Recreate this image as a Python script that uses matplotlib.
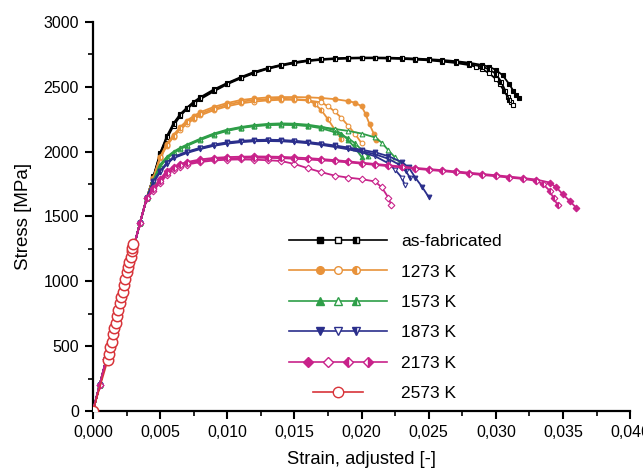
import matplotlib
matplotlib.use('Agg')
import matplotlib.pyplot as plt
import numpy as np
from matplotlib.lines import Line2D
from matplotlib.legend_handler import HandlerBase
from matplotlib.ticker import FuncFormatter, MultipleLocator

plt.rcParams['font.family'] = ['Liberation Sans', 'DejaVu Sans']

# shared elastic part
elastic_strain = [0.0, 0.0005, 0.001, 0.0015, 0.002, 0.0025, 0.003, 0.0035, 0.004]
elastic_stress = [0, 200, 400, 615, 830, 1040, 1250, 1450, 1640]

# as-fabricated
asfab_strain = [
    [0.0045, 0.005, 0.0055, 0.006, 0.0065, 0.007, 0.0075, 0.008, 0.009, 0.010, 0.011, 0.012, 0.013, 0.014,
     0.015, 0.016, 0.017, 0.018, 0.019, 0.020, 0.021, 0.022, 0.023, 0.024, 0.025, 0.026, 0.027, 0.028,
     0.029, 0.0295, 0.030, 0.0305, 0.031, 0.0313, 0.0315, 0.0317],
    [0.0045, 0.005, 0.0055, 0.006, 0.0065, 0.007, 0.0075, 0.008, 0.009, 0.010, 0.011, 0.012, 0.013, 0.014,
     0.015, 0.016, 0.017, 0.018, 0.019, 0.020, 0.021, 0.022, 0.023, 0.024, 0.025, 0.026, 0.027, 0.028,
     0.0285, 0.029, 0.0295, 0.030, 0.0303, 0.0306, 0.0309, 0.0311, 0.0313],
    [0.0045, 0.005, 0.0055, 0.006, 0.0065, 0.007, 0.0075, 0.008, 0.009, 0.010, 0.011, 0.012, 0.013, 0.014,
     0.015, 0.016, 0.017, 0.018, 0.019, 0.020, 0.021, 0.022, 0.023, 0.024, 0.025, 0.026, 0.027, 0.028,
     0.029, 0.0295, 0.030, 0.0304, 0.0307, 0.0310],
]
asfab_stress = [
    [1810, 1990, 2120, 2220, 2290, 2340, 2385, 2420, 2480, 2530, 2575, 2615, 2645, 2670,
     2690, 2705, 2714, 2720, 2724, 2726, 2726, 2725, 2722, 2718, 2713, 2707, 2698, 2686,
     2668, 2655, 2630, 2590, 2520, 2470, 2440, 2414],
    [1800, 1975, 2100, 2200, 2275, 2330, 2370, 2405, 2465, 2520, 2565, 2605, 2638, 2662,
     2682, 2698, 2708, 2714, 2718, 2720, 2720, 2718, 2715, 2710, 2704, 2695, 2684, 2668,
     2655, 2635, 2605, 2560, 2520, 2470, 2420, 2385, 2360],
    [1805, 1985, 2110, 2210, 2285, 2335, 2378, 2412, 2472, 2525, 2570, 2610, 2642, 2666,
     2686, 2702, 2711, 2717, 2721, 2723, 2723, 2722, 2719, 2714, 2709, 2702, 2692, 2678,
     2655, 2635, 2600, 2540, 2470, 2400],
]

# 1273 K
k1273_strain = [
    [0.0045, 0.005, 0.0055, 0.006, 0.0065, 0.007, 0.0075, 0.008, 0.009, 0.010, 0.011, 0.012, 0.013, 0.014,
     0.015, 0.016, 0.017, 0.018, 0.019, 0.0195, 0.020, 0.0203, 0.0206, 0.0209, 0.0211],
    [0.0045, 0.005, 0.0055, 0.006, 0.0065, 0.007, 0.0075, 0.008, 0.009, 0.010, 0.011, 0.012, 0.013, 0.014,
     0.015, 0.016, 0.017, 0.0175, 0.018, 0.0185, 0.019, 0.0195, 0.0200],
    [0.0045, 0.005, 0.0055, 0.006, 0.0065, 0.007, 0.0075, 0.008, 0.009, 0.010, 0.011, 0.012, 0.013, 0.014,
     0.015, 0.016, 0.0165, 0.017, 0.0175, 0.018, 0.0185],
]
k1273_stress = [
    [1800, 1960, 2060, 2130, 2190, 2240, 2275, 2305, 2345, 2375, 2398, 2410, 2418, 2421,
     2421, 2419, 2414, 2405, 2390, 2378, 2350, 2290, 2210, 2140, 2090],
    [1790, 1950, 2045, 2115, 2170, 2215, 2250, 2280, 2320, 2350, 2372, 2386, 2395, 2400,
     2400, 2395, 2380, 2350, 2310, 2260, 2200, 2140, 2065],
    [1795, 1955, 2050, 2120, 2180, 2225, 2262, 2292, 2332, 2362, 2385, 2398, 2405, 2408,
     2405, 2398, 2370, 2320, 2250, 2170, 2100],
]

# 1573 K
k1573_strain = [
    [0.0045, 0.005, 0.0055, 0.006, 0.0065, 0.007, 0.008, 0.009, 0.010, 0.011, 0.012, 0.013, 0.014, 0.015,
     0.016, 0.017, 0.018, 0.0185, 0.019, 0.0195, 0.020],
    [0.0045, 0.005, 0.0055, 0.006, 0.0065, 0.007, 0.008, 0.009, 0.010, 0.011, 0.012, 0.013, 0.014, 0.015,
     0.016, 0.017, 0.018, 0.019, 0.020, 0.021, 0.0215, 0.022, 0.0225, 0.0229],
    [0.0045, 0.005, 0.0055, 0.006, 0.0065, 0.007, 0.008, 0.009, 0.010, 0.011, 0.012, 0.013, 0.014, 0.015,
     0.016, 0.017, 0.018, 0.019, 0.0195, 0.020, 0.0205],
]
k1573_stress = [
    [1780, 1900, 1960, 2000, 2030, 2055, 2100, 2140, 2170, 2190, 2205, 2214, 2218, 2216,
     2208, 2192, 2165, 2140, 2090, 2030, 1960],
    [1770, 1885, 1945, 1990, 2020, 2045, 2090, 2130, 2160, 2182, 2196, 2204, 2207, 2205,
     2200, 2190, 2175, 2160, 2140, 2110, 2070, 2010, 1955, 1910],
    [1775, 1892, 1952, 1995, 2025, 2050, 2095, 2135, 2165, 2186, 2200, 2208, 2212, 2208,
     2198, 2180, 2150, 2105, 2065, 2015, 1965],
]

# 1873 K
k1873_strain = [
    [0.0045, 0.005, 0.0055, 0.006, 0.007, 0.008, 0.009, 0.010, 0.011, 0.012, 0.013, 0.014, 0.015, 0.016,
     0.017, 0.018, 0.019, 0.020, 0.021, 0.022, 0.023, 0.0235, 0.024, 0.0245, 0.025],
    [0.0045, 0.005, 0.0055, 0.006, 0.007, 0.008, 0.009, 0.010, 0.011, 0.012, 0.013, 0.014, 0.015, 0.016,
     0.017, 0.018, 0.019, 0.020, 0.021, 0.022, 0.0225, 0.023, 0.0232],
    [0.0045, 0.005, 0.0055, 0.006, 0.007, 0.008, 0.009, 0.010, 0.011, 0.012, 0.013, 0.014, 0.015, 0.016,
     0.017, 0.018, 0.019, 0.020, 0.021, 0.022, 0.0228, 0.0233, 0.0236],
]
k1873_stress = [
    [1770, 1850, 1915, 1960, 2000, 2030, 2055, 2072, 2083, 2090, 2092, 2090, 2084, 2075,
     2062, 2048, 2032, 2015, 1995, 1965, 1920, 1880, 1800, 1730, 1650],
    [1765, 1840, 1905, 1950, 1990, 2020, 2045, 2062, 2073, 2080, 2082, 2080, 2074, 2065,
     2052, 2036, 2018, 1995, 1965, 1910, 1860, 1800, 1745],
    [1768, 1845, 1910, 1955, 1995, 2025, 2050, 2067, 2078, 2085, 2087, 2085, 2079, 2070,
     2057, 2042, 2025, 2005, 1980, 1945, 1900, 1850, 1800],
]

# 2173 K
k2173_strain = [
    [0.0045, 0.005, 0.0055, 0.006, 0.0065, 0.007, 0.008, 0.009, 0.010, 0.011, 0.012, 0.013, 0.014, 0.015,
     0.016, 0.017, 0.018, 0.019, 0.020, 0.021, 0.022, 0.023, 0.024, 0.025, 0.026, 0.027, 0.028, 0.029,
     0.030, 0.031, 0.032, 0.033, 0.034, 0.0345, 0.035, 0.0355, 0.036],
    [0.0045, 0.005, 0.0055, 0.006, 0.0065, 0.007, 0.008, 0.009, 0.010, 0.011, 0.012, 0.013, 0.014, 0.015,
     0.016, 0.017, 0.018, 0.019, 0.020, 0.021, 0.0215, 0.022, 0.0222],
    [0.0045, 0.005, 0.0055, 0.006, 0.0065, 0.007, 0.008, 0.009, 0.010, 0.011, 0.012, 0.013, 0.014, 0.015,
     0.016, 0.017, 0.018, 0.019, 0.020, 0.021, 0.022, 0.023, 0.024, 0.025, 0.026, 0.027, 0.028, 0.029,
     0.030, 0.031, 0.032, 0.033, 0.0335, 0.034, 0.0343, 0.0346],
]
k2173_stress = [
    [1720, 1790, 1850, 1885, 1905, 1920, 1940, 1952, 1958, 1961, 1963, 1962, 1960, 1955,
     1950, 1943, 1935, 1925, 1915, 1905, 1895, 1885, 1875, 1866, 1857, 1848, 1838, 1828,
     1818, 1808, 1797, 1785, 1762, 1725, 1670, 1620, 1565],
    [1700, 1760, 1820, 1860, 1885, 1900, 1920, 1932, 1938, 1940, 1938, 1934, 1928, 1905,
     1872, 1842, 1815, 1800, 1788, 1770, 1725, 1645, 1590],
    [1710, 1775, 1835, 1872, 1895, 1910, 1930, 1942, 1948, 1951, 1953, 1952, 1950, 1945,
     1940, 1933, 1926, 1917, 1908, 1898, 1888, 1878, 1868, 1859, 1850, 1840, 1830, 1820,
     1810, 1800, 1790, 1775, 1750, 1700, 1640, 1590],
]

# 2573 K
k2573_strain = [0.0, 0.0011, 0.0012, 0.0013, 0.0014, 0.0015, 0.0016, 0.0017, 0.0018, 0.0019, 0.0020,
                0.0021, 0.0022, 0.0023, 0.0024, 0.0025, 0.0026, 0.0027, 0.0028, 0.0029, 0.0029, 0.0030]
k2573_stress = [0, 390, 440, 490, 530, 590, 640, 680, 730, 780, 830,
                880, 920, 970, 1020, 1070, 1110, 1150, 1190, 1230, 1260, 1290]

labels = ['as-fabricated', '1273 K', '1573 K', '1873 K', '2173 K', '2573 K']
colors = ['#000000', '#E8923A', '#2E9E48', '#2B2F8C', '#C8228A', '#D8343A']
markers = ['s', 'o', '^', 'v', 'D', 'o']
fills = ['full', 'none', 'left']


class SpecimenHandler(HandlerBase):
    def __init__(self, marker, color, fillset, spots, span=(0.0, 1.0), ms=5.0):
        super().__init__()
        self.marker = marker
        self.color = color
        self.fillset = fillset
        self.spots = spots
        self.span = span
        self.ms = ms

    def create_artists(self, legend, orig_handle, xdescent, ydescent, width, height, fontsize, trans):
        y = height / 2 - ydescent
        x0 = -xdescent
        arts = [Line2D([x0 + width * self.span[0], x0 + width * self.span[1]], [y, y],
                       color=self.color, lw=1.2)]
        for f, p in zip(self.fillset, self.spots):
            if f == 'none':
                kw = dict(fillstyle='full', markerfacecolor='white')
            else:
                kw = dict(fillstyle=f, markerfacecolor=self.color, markerfacecoloralt='white')
            arts.append(Line2D([x0 + width * p], [y], marker=self.marker, color=self.color,
                               ms=self.ms, ls='none', mew=1.0, **kw))
        for a in arts:
            a.set_transform(trans)
        return arts


def open_kw(f, c):
    if f == 'none':
        return dict(fillstyle='full', markerfacecolor='white')
    return dict(fillstyle=f, markerfacecolor=c, markerfacecoloralt='white')


fig = plt.figure(figsize=(6.43, 4.76), dpi=100)
ax = fig.add_axes([0.1446, 0.1366, 0.8354, 0.8172])

groups = [(asfab_strain, asfab_stress), (k1273_strain, k1273_stress), (k1573_strain, k1573_stress),
          (k1873_strain, k1873_stress), (k2173_strain, k2173_stress)]

for g, (strains, stresses) in enumerate(groups):
    for i, (s, st) in enumerate(zip(strains, stresses)):
        xs = elastic_strain + s
        ys = elastic_stress + st
        ax.plot(xs, ys, color=colors[g], lw=1.3, marker=markers[g], ms=3.4, mew=0.8,
                markeredgecolor=colors[g], zorder=3 + g * 0.1, **open_kw(fills[i], colors[g]))

ax.plot(k2573_strain, k2573_stress, color=colors[5], lw=1.0, marker='o', ms=7.5, mew=1.1,
        markerfacecolor='white', markeredgecolor=colors[5], zorder=4)

ax.set_xlim(0, 0.040)
ax.set_ylim(0, 3000)
ax.xaxis.set_major_locator(MultipleLocator(0.005))
ax.xaxis.set_minor_locator(MultipleLocator(0.0025))
ax.yaxis.set_major_locator(MultipleLocator(500))
ax.yaxis.set_minor_locator(MultipleLocator(250))
ax.xaxis.set_major_formatter(FuncFormatter(lambda v, p: f'{v:.3f}'.replace('.', ',')))
ax.yaxis.set_major_formatter(FuncFormatter(lambda v, p: f'{v:.0f}'))

for side in ['top', 'right']:
    ax.spines[side].set_visible(False)
for side in ['left', 'bottom']:
    ax.spines[side].set_linewidth(1.6)
ax.tick_params(which='major', direction='out', length=6, width=1.5, labelsize=11.5, pad=4)
ax.tick_params(which='minor', direction='out', length=3.5, width=1.2)

ax.set_xlabel('Strain, adjusted [-]', fontsize=13.2, labelpad=8)
ax.set_ylabel('Stress [MPa]', fontsize=13.5, labelpad=8)

handles = [Line2D([], []) for _ in labels]
hmap = {}
for g in range(5):
    if g == 4:
        hmap[handles[g]] = SpecimenHandler(markers[g], colors[g], ['full', 'none', 'left', 'right'],
                                           [0.2, 0.4, 0.6, 0.8], ms=5)
    else:
        hmap[handles[g]] = SpecimenHandler(markers[g], colors[g], ['full', 'none', 'left'],
                                           [0.32, 0.5, 0.68], ms=5.5 if g != 0 else 5)
hmap[handles[5]] = SpecimenHandler('o', colors[5], ['none'], [0.5], span=(0.25, 0.75), ms=7.5)

leg = ax.legend(handles, labels, handler_map=hmap, loc='upper left', bbox_to_anchor=(0.364, 0.455),
                frameon=False, fontsize=12.5, handlelength=5.7, handletextpad=0.8,
                labelspacing=0.88, borderpad=0, borderaxespad=0)

fig.savefig('out.png', dpi=100)
